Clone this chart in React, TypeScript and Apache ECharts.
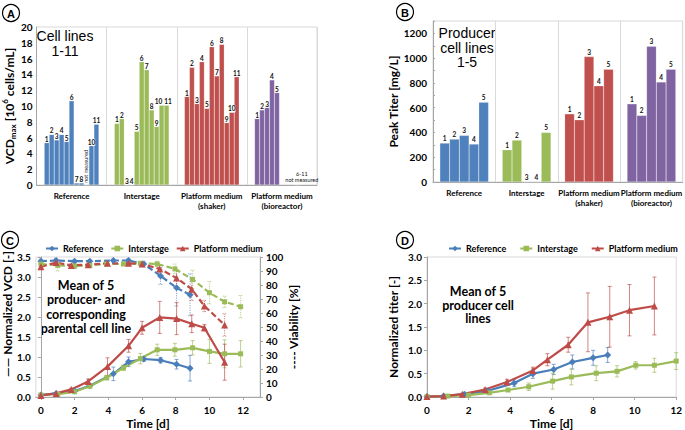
import React, { useEffect, useRef } from 'react';
import * as echarts from 'echarts';

// ---------- Panel A / B categories ----------
const groups = ['Reference', 'Interstage', 'Platform medium\n(shaker)', 'Platform medium\n(bioreactor)'];
const groupColors = ['#4F81BD', '#9BBB59', '#C0504D', '#8064A2'];

// Panel A: VCDmax [10^6 cells/mL], cell lines 1-11
const cellLinesA = ['1', '2', '3', '4', '5', '6', '7', '8', '9', '10', '11'];
const vcdReference = [5.35, 6.4, 5.7, 6.4, 5.5, 10.65, 0.25, 0.25, 0, 4.97, 7.7];
const vcdInterstage = [7.8, 8.4, 0, 0, 6.8, 15.6, 14.6, 9.5, 7.4, 10.1, 10.1];
const vcdShaker = [11.2, 14.9, 10.3, 15.6, 9.7, 17.5, 13.8, 17.8, 7.9, 9.2, 13.7];
const vcdBioreactor = [8.4, 9.5, 9.8, 13.3, 11.7, null, null, null, 0, null, null];

// Panel B: Peak titer [mg/L], producer cell lines 1-5
const cellLinesB = ['1', '2', '3', '4', '5'];
const titerReference = [314, 346, 376, 306, 644];
const titerInterstage = [260, 338, 0, 0, 400];
const titerShaker = [550, 502, 1012, 776, 910];
const titerBioreactor = [631, 537, 1095, 808, 910];

// Panel C: normalized VCD (left) and viability (right)
const refDaysC = [0, 0.9, 2.0, 2.9, 4.3, 5.2, 6.1, 7.1, 8.05, 8.85];
const refVcdC = [0.05, 0.09, 0.15, 0.28, 0.58, 0.88, 0.95, 0.92, 0.82, 0.72];
const refVcdErrC = [0.02, 0.02, 0.03, 0.04, 0.17, 0.12, 0.06, 0.07, 0.12, 0.32];
const refViaC = [97, 97.5, 97, 97, 97.5, 97.5, 95, 86.5, 78, 73];
const refViaErrC = [1.5, 1.5, 1, 1, 1, 1.5, 2, 6, 13, 15];

const intDaysC = [0, 1, 2, 2.9, 3.9, 4.9, 5.9, 6.9, 7.95, 9.0, 10.0, 10.9, 11.85];
const intVcdC = [0.05, 0.07, 0.13, 0.27, 0.48, 0.73, 0.96, 1.18, 1.18, 1.23, 1.14, 1.08, 1.08];
const intVcdErrC = [0.02, 0.02, 0.03, 0.04, 0.05, 0.07, 0.13, 0.14, 0.16, 0.18, 0.3, 0.35, 0.33];
const intViaC = [95, 94, 93.5, 94, 95, 95, 95.5, 95, 91.5, 84, 74.5, 68, 64.5];
const intViaErrC = [2, 4, 1.5, 1, 1, 1, 1, 2, 3.5, 6.5, 8, 4, 8];

const platDaysC = [0, 0.9, 1.8, 2.8, 3.95, 5.2, 6.0, 7.05, 8.05, 8.95, 9.7, 10.9];
const platVcdC = [0.04, 0.09, 0.19, 0.39, 0.76, 1.28, 1.73, 1.99, 1.96, 1.83, 1.73, 0.87];
const platVcdErrC = [0.02, 0.02, 0.03, 0.06, 0.22, 0.16, 0.16, 0.4, 0.4, 0.22, 0.08, 0.45];
const platViaC = [93, 96, 94, 94.5, 95.5, 95.5, 95, 91.5, 85, 77, 65, 51.5];
const platViaErrC = [2, 1, 1, 1, 1, 1, 1, 3, 6, 8, 4, 8];

// Panel D: normalized titer
const refDaysD = [0, 0.8, 1.8, 2.9, 4.2, 5.1, 6.1, 7.0, 8.0, 8.7];
const refTiterD = [0.01, 0.02, 0.06, 0.13, 0.3, 0.5, 0.59, 0.75, 0.84, 0.9];
const refTiterErrD = [0.01, 0.02, 0.02, 0.03, 0.08, 0.1, 0.11, 0.15, 0.16, 0.16];
const intDaysD = [0, 1, 2, 3, 3.9, 4.9, 6.05, 6.95, 8.15, 9.15, 10.05, 10.95, 12];
const intTiterD = [0.01, 0.02, 0.04, 0.09, 0.15, 0.22, 0.34, 0.43, 0.51, 0.55, 0.68, 0.68, 0.77];
const intTiterErrD = [0.01, 0.01, 0.02, 0.02, 0.03, 0.08, 0.17, 0.17, 0.16, 0.12, 0.08, 0.15, 0.18];
const platDaysD = [0, 0.8, 1.7, 2.8, 3.85, 5.1, 5.8, 6.8, 7.75, 8.8, 9.75, 10.95];
const platTiterD = [0.01, 0.02, 0.06, 0.16, 0.32, 0.57, 0.8, 1.12, 1.6, 1.72, 1.86, 1.95];
const platTiterErrD = [0.01, 0.01, 0.02, 0.03, 0.06, 0.07, 0.13, 0.16, 0.63, 0.65, 0.55, 0.62];

const seriesNames = ['Reference', 'Interstage', 'Platform medium'];
const lineColors = ['#4A7EBB', '#9BBB59', '#BE4B48'];
const symbols = ['diamond', 'rect', 'triangle'];
const symbolSizes = [7, 5, 7];
const xTicks = [0, 2, 4, 6, 8, 10, 12];

const FONT = 'Lato, "Open Sans", sans-serif';
const ARIAL = '"Liberation Sans", Arial, sans-serif';
const AXIS_GRAY = '#a6a6a6';
const BORDER_GRAY = '#d9d9d9';

function barSeriesA(): any[] {
  const table = [vcdReference, vcdInterstage, vcdShaker, vcdBioreactor];
  return cellLinesA.map((name, i) => ({
    type: 'bar',
    name: 'A' + name,
    xAxisIndex: 0,
    yAxisIndex: 0,
    barGap: '0%',
    barCategoryGap: '22%',
    itemStyle: { color: (p: any) => groupColors[p.dataIndex], borderColor: 'rgba(255,255,255,0.5)', borderWidth: 0.4 },
    label: {
      show: true,
      position: 'top',
      distance: 0,
      formatter: name,
      fontSize: 6.5,
      lineHeight: 7,
      fontWeight: 'bold',
      fontFamily: FONT,
      color: '#111',
      backgroundColor: '#fff',
      padding: 0,
    },
    data: table.map((col, g) => {
      const v = col[i];
      if (g === 0 && name === '9') {
        return {
          value: v,
          label: {
            formatter: 'not measured', rotate: 90, align: 'left', verticalAlign: 'middle',
            fontSize: 5.5, fontWeight: 'normal', backgroundColor: 'transparent', distance: 2,
          },
        };
      }
      if (g === 3 && name === '9') {
        return {
          value: v,
          label: {
            formatter: '6-11\nnot measured', fontSize: 5.5, lineHeight: 6, fontWeight: 'normal',
            backgroundColor: 'transparent', offset: [5, 0], distance: 2,
          },
        };
      }
      if (g === 1 && name === '10') return { value: v, label: { offset: [-3, 0] } };
      if (g === 1 && name === '11') return { value: v, label: { offset: [1.5, 0] } };
      return v;
    }),
  }));
}

function barSeriesB(): any[] {
  const table = [titerReference, titerInterstage, titerShaker, titerBioreactor];
  return cellLinesB.map((name, i) => ({
    type: 'bar',
    name: 'B' + name,
    xAxisIndex: 1,
    yAxisIndex: 1,
    barGap: '0%',
    barCategoryGap: '22%',
    itemStyle: { color: (p: any) => groupColors[p.dataIndex], borderColor: 'rgba(255,255,255,0.5)', borderWidth: 0.4 },
    label: {
      show: true,
      position: 'top',
      distance: 1,
      formatter: name,
      fontSize: 6.5,
      fontWeight: 'bold',
      fontFamily: FONT,
      color: '#111',
      backgroundColor: '#fff',
      padding: [1, 1, 0, 1],
    },
    data: table.map((col) => col[i]),
  }));
}

function lineSeries(name: string, idx: number, xs: number[], ys: number[], xAxisIndex: number, yAxisIndex: number, dashed: boolean): any {
  return {
    type: 'line',
    name,
    xAxisIndex,
    yAxisIndex,
    data: xs.map((x, i) => [x, ys[i]]),
    symbol: symbols[idx],
    symbolSize: symbolSizes[idx],
    showSymbol: true,
    z: 3,
    lineStyle: { color: lineColors[idx], width: 2.2, type: dashed ? [6, 3] : 'solid' },
    itemStyle: { color: lineColors[idx] },
  };
}

function errorSeries(key: string, idx: number, xs: number[], ys: number[], errs: number[], xAxisIndex: number, yAxisIndex: number, dotted: boolean): any {
  const color = lineColors[idx];
  return {
    type: 'custom',
    name: key,
    xAxisIndex,
    yAxisIndex,
    silent: true,
    z: 2,
    encode: { x: 0, y: [1, 2] },
    data: xs.map((x, i) => [x, ys[i] - errs[i], ys[i] + errs[i]]),
    renderItem: (params: any, api: any) => {
      const x = api.value(0);
      const p1 = api.coord([x, api.value(1)]);
      const p2 = api.coord([x, api.value(2)]);
      const hw = 2;
      const style: any = { stroke: color, lineWidth: 0.9, opacity: 0.75 };
      if (dotted) style.lineDash = [1.2, 1.2];
      return {
        type: 'group',
        children: [
          { type: 'line', shape: { x1: p1[0], y1: p1[1], x2: p2[0], y2: p2[1] }, style },
          { type: 'line', shape: { x1: p1[0] - hw, y1: p1[1], x2: p1[0] + hw, y2: p1[1] }, style },
          { type: 'line', shape: { x1: p2[0] - hw, y1: p2[1], x2: p2[0] + hw, y2: p2[1] }, style },
        ],
      };
    },
  };
}

const tickLabel = { fontSize: 10, fontWeight: 'bold', fontFamily: FONT, color: '#000' };
const nameStyle = { fontSize: 12, fontWeight: 'bold', fontFamily: FONT, color: '#000' };
const legendText = { fontSize: 9, fontWeight: 'bold', fontFamily: FONT, color: '#000' };

function panelLetter(letter: string, cx: number, cy: number): any[] {
  return [
    { type: 'circle', shape: { cx, cy, r: 8.5 }, style: { fill: '#fff', stroke: '#000', lineWidth: 1.2 } },
    {
      type: 'text', x: cx, y: cy + 0.5,
      style: { text: letter, fontSize: 11, fontWeight: 'bold', fontFamily: ARIAL, fill: '#000', align: 'center', verticalAlign: 'middle' },
    },
  ];
}

export default function App() {
  const ref = useRef<HTMLDivElement>(null);
  useEffect(() => {
    if (!ref.current) return;
    const chart = echarts.init(ref.current, undefined, { renderer: 'svg' });
    const series: any[] = [...barSeriesA(), ...barSeriesB()];

    const cSets = [
      [refDaysC, refVcdC, refVcdErrC, refViaC, refViaErrC],
      [intDaysC, intVcdC, intVcdErrC, intViaC, intViaErrC],
      [platDaysC, platVcdC, platVcdErrC, platViaC, platViaErrC],
    ];
    cSets.forEach((s, i) => {
      series.push(errorSeries('errVcd' + i, i, s[0], s[1], s[2], 2, 2, false));
      series.push(errorSeries('errVia' + i, i, s[0], s[3], s[4], 2, 3, true));
    });
    cSets.forEach((s, i) => {
      series.push(lineSeries(seriesNames[i], i, s[0], s[1], 2, 2, false));
      series.push(lineSeries(seriesNames[i], i, s[0], s[3], 2, 3, true));
    });
    const dSets = [
      [refDaysD, refTiterD, refTiterErrD],
      [intDaysD, intTiterD, intTiterErrD],
      [platDaysD, platTiterD, platTiterErrD],
    ];
    dSets.forEach((s, i) => {
      series.push(errorSeries('errTiter' + i, i, s[0], s[1], s[2], 3, 4, false));
    });
    dSets.forEach((s, i) => {
      series.push(lineSeries(seriesNames[i], i, s[0], s[1], 3, 4, false));
    });

    const gridBase = { show: true, borderColor: BORDER_GRAY, borderWidth: 1, backgroundColor: 'transparent' };
    const catLabel = { ...tickLabel, fontSize: 8, lineHeight: 10, margin: 6, interval: 0 };

    chart.setOption({
      animation: false,
      backgroundColor: '#fff',
      textStyle: { fontFamily: FONT },
      grid: [
        { ...gridBase, left: 34, top: 27, width: 283, height: 158 },
        { ...gridBase, left: 433, top: 21, width: 251, height: 161 },
        { ...gridBase, left: 33, top: 257, width: 227, height: 144 },
        { ...gridBase, left: 427, top: 257, width: 253, height: 144 },
      ],
      legend: [
        {
          data: seriesNames, left: 45, top: 244, padding: 0, itemWidth: 12, itemHeight: 7, itemGap: 7,
          textStyle: legendText,
        },
        {
          data: seriesNames, left: 448, top: 244, padding: 0, itemWidth: 12, itemHeight: 7, itemGap: 13,
          textStyle: legendText,
        },
      ],
      xAxis: [
        {
          type: 'category', gridIndex: 0, data: groups,
          axisLine: { lineStyle: { color: AXIS_GRAY } },
          axisTick: { show: false },
          splitLine: { show: true, lineStyle: { color: BORDER_GRAY } },
          axisLabel: catLabel,
        },
        {
          type: 'category', gridIndex: 1, data: groups,
          axisLine: { lineStyle: { color: AXIS_GRAY } },
          axisTick: { show: false },
          splitLine: { show: true, lineStyle: { color: BORDER_GRAY } },
          axisLabel: catLabel,
        },
        {
          type: 'value', gridIndex: 2, min: -0.3, max: 13,
          axisLine: { onZero: false, lineStyle: { color: AXIS_GRAY } },
          axisTick: { show: true, length: 3, customValues: xTicks, lineStyle: { color: AXIS_GRAY } },
          axisLabel: { ...tickLabel, margin: 8, customValues: xTicks },
          splitLine: { show: false },
          name: 'Time [d]', nameLocation: 'middle', nameGap: 20, nameTextStyle: nameStyle,
        },
        {
          type: 'value', gridIndex: 3, min: 0, max: 12, interval: 2,
          axisLine: { onZero: false, lineStyle: { color: AXIS_GRAY } },
          axisTick: { show: true, length: 3, lineStyle: { color: AXIS_GRAY } },
          axisLabel: { ...tickLabel, margin: 8 },
          splitLine: { show: false },
          name: 'Time [d]', nameLocation: 'middle', nameGap: 20, nameTextStyle: nameStyle,
        },
      ],
      yAxis: [
        {
          type: 'value', gridIndex: 0, min: 0, max: 20, interval: 2,
          axisLine: { show: true, lineStyle: { color: AXIS_GRAY } },
          axisTick: { show: false },
          splitLine: { show: false },
          axisLabel: { ...tickLabel, margin: 4 },
          name: '{a|VCD}{sub|max}{a| [10}{sup|6}{a| cells/mL]}',
          nameLocation: 'middle', nameGap: 18, nameRotate: 90,
          nameTextStyle: {
            ...nameStyle,
            rich: {
              a: { fontSize: 12, fontWeight: 'bold', fontFamily: FONT, lineHeight: 16 },
              sub: { fontSize: 8, fontWeight: 'bold', fontFamily: FONT, lineHeight: 9, verticalAlign: 'bottom' },
              sup: { fontSize: 8, fontWeight: 'bold', fontFamily: FONT, lineHeight: 9, verticalAlign: 'top' },
            },
          },
        },
        {
          type: 'value', gridIndex: 1, min: 0, max: 1300, interval: 200,
          axisLine: { show: true, lineStyle: { color: AXIS_GRAY } },
          axisTick: { show: true, inside: true, length: 2, lineStyle: { color: AXIS_GRAY } },
          minorTick: { show: true, splitNumber: 2, length: 2, lineStyle: { color: AXIS_GRAY } },
          splitLine: { show: false },
          axisLabel: { ...tickLabel, margin: 6, showMaxLabel: false, formatter: (v: number) => String(v) },
          name: 'Peak Titer [mg/L]', nameLocation: 'middle', nameGap: 30, nameRotate: 90, nameTextStyle: nameStyle,
        },
        {
          type: 'value', gridIndex: 2, min: 0, max: 3.5, interval: 0.5,
          axisLine: { show: true, lineStyle: { color: AXIS_GRAY } },
          axisTick: { show: true, length: 3, lineStyle: { color: AXIS_GRAY } },
          splitLine: { show: false },
          axisLabel: { ...tickLabel, margin: 5, formatter: (v: number) => v.toFixed(1) },
          name: '—— Normalized VCD [-]', nameLocation: 'middle', nameGap: 18, nameRotate: 90,
          nameTextStyle: { ...nameStyle, padding: [0, 0, 0, 26] },
        },
        {
          type: 'value', gridIndex: 2, min: 0, max: 100, interval: 10, position: 'right',
          axisLine: { show: true, lineStyle: { color: AXIS_GRAY } },
          axisTick: { show: true, length: 3, lineStyle: { color: AXIS_GRAY } },
          splitLine: { show: false },
          axisLabel: { ...tickLabel, margin: 6 },
          name: '---- Viability [%]', nameLocation: 'middle', nameGap: 25, nameRotate: 90, nameTextStyle: nameStyle,
        },
        {
          type: 'value', gridIndex: 3, min: 0, max: 3, interval: 0.5,
          axisLine: { show: true, lineStyle: { color: AXIS_GRAY } },
          axisTick: { show: true, length: 3, lineStyle: { color: AXIS_GRAY } },
          splitLine: { show: false },
          axisLabel: { ...tickLabel, margin: 5, formatter: (v: number) => v.toFixed(1) },
          name: 'Normalized titer [-]', nameLocation: 'middle', nameGap: 28, nameRotate: 90, nameTextStyle: nameStyle,
        },
      ],
      graphic: [
        ...panelLetter('A', 11, 13),
        ...panelLetter('B', 405, 12),
        ...panelLetter('C', 10, 240),
        ...panelLetter('D', 405, 240),
        {
          type: 'text', x: 65, y: 28,
          style: { text: 'Cell lines\n1-11', fontSize: 14, lineHeight: 15, fontFamily: ARIAL, fill: '#000', align: 'center' },
        },
        {
          type: 'text', x: 467, y: 26,
          style: { text: 'Producer\ncell lines\n1-5', fontSize: 14, lineHeight: 14.5, fontFamily: ARIAL, fill: '#000', align: 'center' },
        },
        {
          type: 'text', x: 86, y: 278,
          style: {
            text: 'Mean of 5\nproducer- and\ncorresponding\nparental cell line',
            fontSize: 12.5, lineHeight: 14.5, fontWeight: 'bold', fontFamily: FONT, fill: '#000', align: 'center',
          },
        },
        {
          type: 'text', x: 478, y: 285,
          style: {
            text: 'Mean of 5\nproducer cell\nlines',
            fontSize: 12.5, lineHeight: 13.5, fontWeight: 'bold', fontFamily: FONT, fill: '#000', align: 'center',
          },
        },
      ],
      series,
    });
    return () => chart.dispose();
  }, []);
  return <div ref={ref} style={{ position: 'fixed', left: 0, top: 0, width: 685, height: 430 }} />;
}
